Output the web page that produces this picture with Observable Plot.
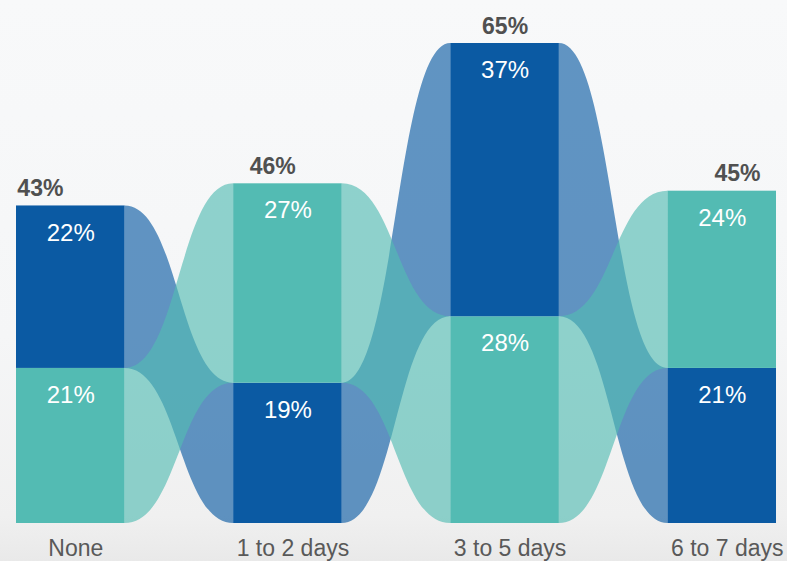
<!DOCTYPE html>
<html><head><meta charset="utf-8">
<script src="https://cdn.jsdelivr.net/npm/d3@7"></script>
<script src="https://cdn.jsdelivr.net/npm/@observablehq/plot@0.6"></script>
<style>
html,body{margin:0;padding:0;}
body{width:787px;height:561px;overflow:hidden;background:linear-gradient(#f8f9fa 0%,#f5f6f7 60%,#f0f0f0 92%,#e9e9e9 100%);}
#chart svg{display:block;background:transparent;}
</style>
</head><body><div id="chart"></div>
<script>
const categories = ["None", "1 to 2 days", "3 to 5 days", "6 to 7 days"];
const seriesBlue = [22, 19, 37, 21];
const seriesTeal = [21, 27, 28, 24];
const totals = [43, 46, 65, 45];
const colors = {blue: "#0b5aa3", teal: "#53bbb3"};

const hw = 0.25; // half bar width in category units
const segs = [];
categories.forEach((c, i) => {
  const vals = [{s: "blue", v: seriesBlue[i]}, {s: "teal", v: seriesTeal[i]}];
  vals.sort((a, b) => a.v - b.v); // smaller at the bottom
  let y = 0;
  for (const d of vals) { segs.push({i, cat: c, s: d.s, v: d.v, y1: y, y2: y + d.v}); y += d.v; }
});
const ribbons = [];
for (const s of ["blue", "teal"]) {
  for (let i = 0; i < categories.length - 1; i++) {
    const a = segs.find(d => d.i === i && d.s === s);
    const b = segs.find(d => d.i === i + 1 && d.s === s);
    const z = s + i;
    ribbons.push({z, s, x: i + hw, y1: a.y1, y2: a.y2});
    ribbons.push({z, s, x: i + 1 - hw, y1: b.y1, y2: b.y2});
  }
}
const font = "'Liberation Sans Narrow', 'Arial Narrow', 'Liberation Sans', Arial, sans-serif";

const chart = Plot.plot({
  width: 787, height: 561,
  marginTop: 43, marginBottom: 38, marginLeft: 16, marginRight: 11,
  style: {fontFamily: font, background: "transparent"},
  x: {type: "linear", domain: [-hw, categories.length - 1 + hw], axis: null},
  y: {domain: [0, 65], axis: null},
  marks: [
    Plot.areaY(ribbons, {x: "x", y1: "y1", y2: "y2", z: "z", curve: "bump-x",
      fill: d => colors[d.s], fillOpacity: 0.64}),
    Plot.rect(segs, {x1: d => d.i - hw, x2: d => d.i + hw, y1: "y1", y2: "y2", fill: d => colors[d.s]}),
    Plot.text(segs, {x: "i", y: "y2", text: d => d.v + "%", dy: 27, lineAnchor: "middle",
      fill: "white", fontSize: 24}),
    Plot.text(totals, {x: (d, i) => i + (i - 2) * 0.07, y: d => d, text: d => d + "%",
      dy: -10, lineAnchor: "bottom", fill: "#505050", fontSize: 23, fontWeight: "bold"}),
    Plot.text(categories, {x: (d, i) => i, y: () => 0, text: d => d, dx: 5, dy: 25,
      lineAnchor: "middle", fill: "#595959", fontSize: 23})
  ]
});
document.getElementById("chart").append(chart);
</script>
</body></html>
